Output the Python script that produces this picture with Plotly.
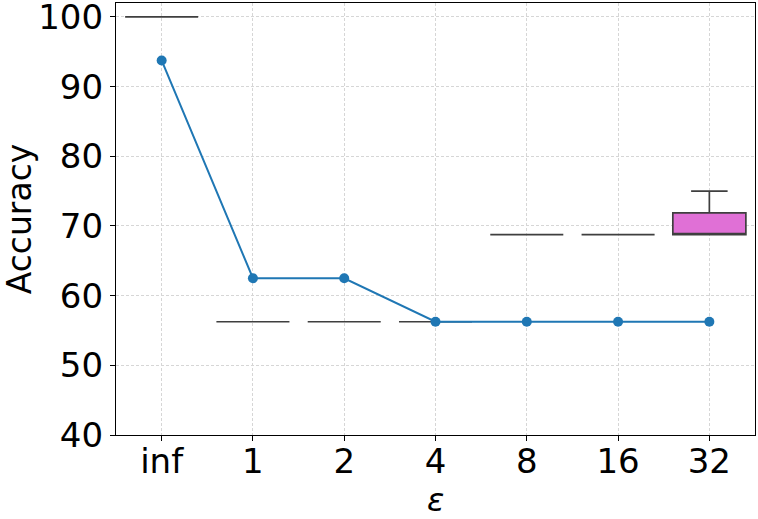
import plotly.graph_objects as go

categories = ["inf", "1", "2", "4", "8", "16", "32"]
box_lower = [100, 56.25, 56.25, 56.25, 68.75, 68.75, 68.75]
box_q1 = [100, 56.25, 56.25, 56.25, 68.75, 68.75, 68.75]
box_median = [100, 56.25, 56.25, 56.25, 68.75, 68.75, 68.75]
box_q3 = [100, 56.25, 56.25, 56.25, 68.75, 68.75, 71.875]
box_upper = [100, 56.25, 56.25, 56.25, 68.75, 68.75, 75]
box_colors = ["#3b75af", "#ef8636", "#519e3e", "#c53a32", "#8d69b8", "#84584e", "#e070d6"]
line_values = [93.75, 62.5, 62.5, 56.25, 56.25, 56.25, 56.25]

fig = go.Figure()
for i, c in enumerate(categories):
    fig.add_trace(go.Box(
        x=[c], q1=[box_q1[i]], median=[box_median[i]], q3=[box_q3[i]],
        lowerfence=[box_lower[i]], upperfence=[box_upper[i]],
        fillcolor=box_colors[i], line=dict(color="#3f3f3f", width=1.7),
        width=0.8, whiskerwidth=0.5, boxpoints=False, showlegend=False,
        hoverinfo="skip",
    ))

fig.add_trace(go.Scatter(
    x=categories, y=line_values, mode="lines+markers",
    line=dict(color="#1f77b4", width=2),
    marker=dict(color="#1f77b4", size=10),
    showlegend=False,
))

axis_common = dict(
    showline=True, linecolor="black", linewidth=1.2, mirror=True,
    ticks="outside", ticklen=5, tickcolor="black",
    showgrid=True, gridcolor="#d6d6d6", griddash="3px,2px", gridwidth=0.8,
    zeroline=False, tickfont=dict(size=34, color="black"), automargin=False,
    ticklabeloverflow="allow",
)

fig.update_layout(
    width=758, height=519,
    margin=dict(l=116, r=3, t=3, b=84),
    paper_bgcolor="white", plot_bgcolor="white",
    font=dict(family="DejaVu Sans", color="black"),
    boxmode="overlay",
    xaxis=dict(type="category", range=[-0.5, 6.5], ticklabelstandoff=-9,
               **axis_common),
    yaxis=dict(range=[40, 102], tickvals=[40, 50, 60, 70, 80, 90, 100],
               title=dict(text="Accuracy", font=dict(size=33), standoff=8),
               **axis_common),
    annotations=[dict(text="<i>ε</i>", xref="paper", yref="paper",
                      x=0.5, y=-0.150, xanchor="center", yanchor="middle",
                      showarrow=False, font=dict(size=32, color="black"))],
)

fig.write_html("out.html", config={"displayModeBar": False},
               post_script="document.body.style.margin='0';document.body.style.overflow='hidden';")
